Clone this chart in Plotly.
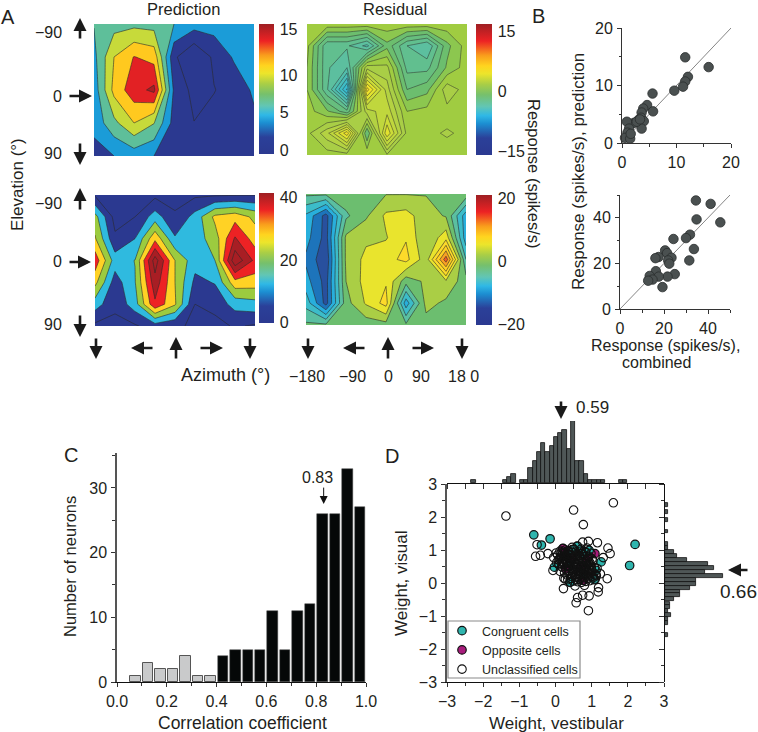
import plotly.graph_objects as go

W, H = 758, 732
FONT = "Liberation Sans"
INK = "#231F20"

# ---------------- data ----------------
azimuth = [-180, -135, -90, -45, 0, 45, 90, 135, 180]
elev5 = [-90, -45, 0, 45, 90]
elev7 = [-90, -60, -30, 0, 30, 60, 90]

prediction_vis = [
    [5.1, 6.5, 6.8, 6.5, 5.0, 3.6, 3.6, 3.6, 3.6],
    [4.3, 10.0, 12.6, 11.6, 0.5, -2.5, 0.5, 2.8, 3.8],
    [3.5, 10.8, 14.0, 15.6, 2.0, -0.8, -0.1, 1.0, 2.9],
    [3.3, 6.8, 10.0, 7.6, 1.5, 0.05, 0.8, 1.2, 2.0],
    [1.5, 2.5, 3.5, 2.5, 1.5, 1.2, 1.2, 1.2, 1.5],
]
residual_vis = [
    [0.4, 0.4, 0.4, 0.4, 0.4, 0.4, 0.4, 0.4, 0.4],
    [0.2, -2.3, -2.3, -3.2, -0.8, -2.4, -3.0, -0.8, 0.3],
    [0.0, -2.3, -3.0, 1.0, 0.8, -2.0, -2.0, -0.5, 0.3],
    [0.0, -2.3, -5.5, 4.5, 1.5, -1.2, -0.8, 1.0, 0.3],
    [0.3, -0.5, -1.6, 1.5, 2.2, 0.0, 0.2, 0.4, 0.4],
    [0.4, 1.6, 4.0, -1.2, 3.5, 0.4, 0.5, 0.65, 0.5],
    [0.2, 0.3, 0.3, 0.5, 0.5, 0.5, 0.4, 0.4, 0.4],
]
prediction_comb = [
    [-1, -2, -1, -2, -2.5, -1.5, -1, -0.5, -0.2],
    [19, -3, 0, 12, 1, 11, 26, 29, 22],
    [25, 1.5, 8, 30, 9, 12, 20, 41, 28],
    [37, 12, 16.2, 52, 24, 11, 16, 54, 38],
    [26.5, 4, 15.5, 45, 24, 6, 8.5, 29, 28],
    [12, 1.6, 12.5, 38.5, 25, 0, 3, 11, 13],
    [-2, -2, -1, 4, 1, -1, -3, 1, -1],
]
residual_comb = [
    [-2, -2, -1, -1, -0.1, -0.1, -0.1, -0.1, -1],
    [-8, -13.5, -3, -0.4, 3, 3.5, 1, -0.2, -9],
    [-9, -13.5, 0.5, 2, 2.3, 4.8, 0.2, 4, -9],
    [-10.5, -14.5, 0.5, 3.2, 4, 5.8, 1, 14, -5],
    [-9, -13.5, 0, 3.5, 4.7, -1.5, 0.5, 2, -1.5],
    [-6, -13.5, -1, 2.8, 6, -9, 0.8, -0.5, -1.5],
    [-2, -2, -2, -1.5, -1, -2, -1, -1.5, -1.5],
]

elevation_ticklabels = ["\u221290", "0", "90"]
azimuth_ticklabels = ["\u2212180", "\u221290", "0", "90", "18 0"]

vis_pred_combined_x = [11.6, 15.9, 12.1, 11.6, 11.2, 9.6, 5.6, 4.6, 5.7, 3.9, 3.6, 3.5, 4.0, 3.0, 2.2, 3.6, 0.9, 1.3, 1.0, 0.55, 1.5, 1.6, 2.7, 3.3]
vis_pred_combined_y = [14.9, 13.2, 11.5, 10.7, 9.8, 9.1, 8.6, 6.6, 5.5, 6.0, 5.3, 4.4, 3.8, 4.0, 3.5, 2.5, 3.7, 2.5, 1.8, 0.9, 0.75, 1.6, 3.7, 4.1]
comb_pred_combined_x = [34.5, 41.2, 34.8, 45.6, 31.8, 30.0, 24.3, 33.6, 31.5, 20.5, 21.4, 17.5, 16.1, 23.4, 21.9, 22.4, 16.3, 24.9, 21.6, 17.6, 13.5, 14.8, 12.8, 19.3]
comb_pred_combined_y = [47.6, 46.1, 39.3, 38.0, 32.6, 31.1, 30.7, 26.3, 21.3, 25.7, 24.5, 22.8, 22.3, 22.5, 21.3, 19.9, 16.6, 15.3, 14.2, 14.2, 14.5, 12.9, 12.4, 9.6]

corr_bins_low = [0.075, 0.125, 0.175, 0.225, 0.275, 0.325, 0.375]
corr_counts_low = [1, 3, 2, 2, 4, 1, 1]
corr_bins_high = [0.425, 0.475, 0.525, 0.575, 0.625, 0.675, 0.725, 0.775, 0.825, 0.875, 0.925, 0.975]
corr_counts_high = [4, 5, 5, 5, 11, 5, 11, 12, 26, 26, 33, 27]

vest_bins = [-2.27, -1.404, -1.285, -1.166, -0.93, -0.81, -0.694, -0.576, -0.458, -0.34, -0.22, -0.10, 0.015, 0.13, 0.25, 0.37, 0.49, 0.605, 0.72, 0.84, 0.96, 1.08, 1.20, 1.31, 1.81, 1.92]
vest_counts = [1, 1, 2, 3, 1, 1, 5, 7, 10, 13, 10, 12, 15, 16, 17, 11, 20, 7, 7, 3, 1, 1, 1, 1, 1, 1]
vis_bins = [2.37, 2.14, 1.91, 1.56, 1.17, 1.06, 0.94, 0.82, 0.70, 0.58, 0.45, 0.33, 0.22, 0.10, -0.02, -0.14, -0.26, -0.37, -0.49, -0.62, -0.73, -0.85, -0.97, -1.09, -1.21, -1.57]
vis_counts = [1, 1, 1, 1, 1, 1, 3, 4, 7, 14, 16, 13, 19, 10, 10, 8, 5, 5, 3, 1.5, 1.5, 1, 2, 1, 1, 1]

congruent_x = [-0.60, -0.15, -0.39, 2.20, 2.05, -0.03, 0.40, 0.72, 0.61, 0.46, 1.26, 1.12, 0.77, 1.07, 0.38, 0.93]
congruent_y = [1.46, 1.34, 1.15, 1.17, 0.53, 0.48, 0.03, 0.89, 1.11, 1.01, 0.64, 0.38, 0.28, 0.10, 0.59, 0.99]
opposite_x = [0.20, 0.75, 1.09, 0.29, 0.70, 0.25, 0.89, 0.47]
opposite_y = [1.04, 0.08, 0.89, 0.43, 0.48, 0.89, 0.74, 0.77]
unclassified_x = [
    -1.37, 0.50, 1.60, 0.77, -0.51, -0.55, -0.42, -0.21, -0.07, 0.23, 0.22, 0.54, 0.80, 1.19, 1.18, 0.93, 0.75, 0.61, 0.57, 0.91,
    1.43, 1.51, 1.45, 1.16, 0.91, 0.75, 1.32, 1.24,
    -0.05, 0.02, 0.08, 0.12, 0.16, 0.21, 0.26, 0.31, 0.35, 0.41, 0.46, 0.50, 0.55, 0.60, 0.66, 0.71, 0.76, 0.82, 0.87, 0.93, 0.98, 1.03,
    0.03, 0.10, 0.14, 0.19, 0.24, 0.30, 0.36, 0.39, 0.44, 0.52, 0.57, 0.63, 0.68, 0.73, 0.79, 0.85, 0.90, 0.96, 1.01, 1.08,
    0.17, 0.22, 0.28, 0.33, 0.38, 0.43, 0.48, 0.53, 0.58, 0.65, 0.70, 0.77, 0.83, 0.88, 0.94, 1.00, 1.06, 1.11,
    0.25, 0.32, 0.37, 0.45, 0.51, 0.56, 0.62, 0.69, 0.74, 0.80, 0.86, 0.92, 0.97, 1.04, 1.10,
    0.34, 0.42, 0.49, 0.54, 0.61, 0.67, 0.72, 0.78, 0.84, 0.89, 0.95, 1.02,
    0.13, 0.27, 0.40, 0.59, 0.64, 0.81, 0.99, 1.13, 1.15,
    0.06, 0.11, 0.18, 0.20, 0.15, 0.23, 0.29, 0.27, 0.34, 0.33, 0.40, 0.38, 0.47, 0.43, 0.49, 0.54, 0.59, 0.56, 0.64, 0.62, 0.68, 0.67, 0.74, 0.78, 0.84, 0.81, 0.91, 0.86, 0.95, 0.99,
    0.09, 0.16, 0.21, 0.26, 0.31, 0.37, 0.42, 0.48, 0.51, 0.58, 0.63, 0.69, 0.72, 0.76, 0.83, 0.88, 0.92,
]
unclassified_y = [
    2.03, 2.21, 2.43, 1.77, 1.16, 0.81, 0.84, 0.89, 0.38, 0.15, -0.17, -0.09, -0.07, -0.14, -0.27, -0.39, -0.37, -0.44, -0.60, -0.84,
    0.13, 0.89, 1.06, 1.22, 1.26, 1.24, 0.77, 0.28,
    0.77, 0.91, 0.70, 0.96, 0.84, 1.05, 0.92, 0.74, 0.98, 0.86, 1.08, 0.79, 0.94, 1.12, 0.83, 1.03, 0.72, 0.95, 1.06, 0.81, 0.90, 0.68,
    0.62, 0.55, 0.78, 0.66, 0.71, 0.60, 0.52, 0.67, 0.75, 0.63, 0.56, 0.69, 0.58, 0.64, 0.52, 0.60, 0.66, 0.55, 0.73, 0.47,
    0.49, 0.57, 0.42, 0.50, 0.37, 0.46, 0.54, 0.41, 0.48, 0.35, 0.44, 0.40, 0.45, 0.33, 0.42, 0.37, 0.30, 0.25,
    0.31, 0.24, 0.28, 0.20, 0.33, 0.25, 0.18, 0.27, 0.21, 0.15, 0.24, 0.19, 0.28, 0.16, 0.12,
    0.10, 0.14, 0.06, 0.18, 0.04, 0.12, 0.02, 0.09, 0.05, 0.14, 0.07, 0.20,
    0.35, 0.12, 0.02, 0.10, 0.26, 0.36, 0.48, 0.22, 0.44,
    0.85, 0.74, 0.97, 0.62, 0.91, 0.80, 0.71, 1.00, 0.88, 0.60, 0.77, 0.52, 0.93, 0.65, 0.40, 0.84, 0.73, 0.47, 0.90, 0.55, 0.78, 0.35, 0.61, 0.86, 0.70, 0.43, 0.78, 0.52, 0.62, 0.44,
    0.58, 0.66, 0.92, 0.83, 0.64, 0.95, 0.56, 0.32, 1.02, 0.82, 0.38, 0.96, 0.30, 0.52, 0.92, 0.36, 0.58,
]

# ---------------- helpers ----------------
def px(x):
    return x / W

def py(y):
    return 1 - y / H

def dom(a, b):
    return [a / W, b / W]

def domy(top, bottom):
    return [1 - bottom / H, 1 - top / H]

# continuous colour ramp of the colour bars
jet = [
    [0.00, "#2B3990"], [0.13, "#2B4099"], [0.24, "#1C8FD2"], [0.30, "#2FB8E6"],
    [0.37, "#62C6B4"], [0.46, "#76C06C"], [0.54, "#A9CE46"], [0.62, "#ECE52B"],
    [0.68, "#FFD41F"], [0.76, "#F99D1C"], [0.87, "#ED2224"], [1.00, "#9E1F23"],
]
# ramps that give the flat colours of the contour bands
bands = [
    [0.00, "#2B3990"], [0.11, "#2B3990"], [0.16, "#28529F"], [0.22, "#1D75BC"], [0.25, "#1B9CD8"],
    [0.30, "#2FBADF"], [0.34, "#3ABCCB"], [0.41, "#5CBF9F"], [0.47, "#6CBE6E"], [0.50, "#9CCB3F"],
    [0.53, "#A9CE46"], [0.585, "#C8DA3A"], [0.62, "#ECE52B"], [0.66, "#FFD92A"], [0.75, "#FFC91F"],
    [0.82, "#F2702A"], [0.90, "#ED2224"], [1.00, "#A81E24"],
]
bands_yellow = [[p, "#E8E42E"] if p == 0.585 else [p, c] for p, c in bands]

fig = go.Figure()
layout = dict(
    width=W, height=H, autosize=False, margin=dict(l=0, r=0, t=0, b=0, autoexpand=False),
    paper_bgcolor="white", plot_bgcolor="white",
    font=dict(family=FONT, size=15, color=INK),
    bargap=0, barmode="overlay",
    shapes=[dict(type="rect", xref="paper", yref="paper", x0=px(448), x1=px(580), y0=py(678), y1=py(621),
                 fillcolor="white", line=dict(color="#8A8A8A", width=1.2), layer="above")],
)
ann = []

def text(x, y, s, size=16.5, rot=0, anchor="center", color=INK):
    ann.append(dict(x=px(x), y=py(y), xref="paper", yref="paper", text=s, showarrow=False,
                    xanchor=anchor, yanchor="middle", textangle=rot,
                    font=dict(family=FONT, size=size, color=color)))

def arrow(x0, y0, x1, y1, width=2.6, size=1.0):
    ann.append(dict(x=px(x1), y=py(y1), xref="paper", yref="paper", text="", showarrow=True,
                    ax=x0 - x1, ay=y0 - y1, axref="pixel", ayref="pixel",
                    arrowhead=2, arrowwidth=width, arrowsize=size, arrowcolor="#1A1A1A", standoff=0))

hidden = dict(visible=False)

def contour_panel(n, z, ys, box, cbbox, zrange, start, end, size, ticks, ticktext, lw=0.6, extra=None, scale=bands):
    xa, ya = f"xaxis{n}", f"yaxis{n}"
    layout[xa] = dict(domain=dom(box[0], box[1]), range=[azimuth[0], azimuth[-1]], anchor=f"y{n}", **hidden)
    layout[ya] = dict(domain=domy(box[2], box[3]), range=[ys[-1], ys[0]], anchor=f"x{n}", **hidden)
    fig.add_trace(go.Heatmap(
        x=azimuth, y=ys, z=z, zmin=zrange[0], zmax=zrange[1], colorscale=jet, hoverinfo="skip",
        xaxis=f"x{n}", yaxis=f"y{n}", showscale=True,
        colorbar=dict(x=px(cbbox[0]), xanchor="left", xpad=0, ypad=0, thickness=cbbox[1] - cbbox[0],
                      y=py(cbbox[3]), yanchor="bottom", lenmode="pixels", len=cbbox[3] - cbbox[2],
                      outlinewidth=0, tickmode="array", tickvals=ticks, ticktext=ticktext,
                      ticks="outside", ticklen=3, tickcolor="rgba(0,0,0,0)",
                      tickfont=dict(family=FONT, size=16, color=INK))))
    fig.add_trace(go.Contour(
        x=azimuth, y=ys, z=z, zmin=zrange[0], zmax=zrange[1], colorscale=scale, showscale=False,
        hoverinfo="skip", xaxis=f"x{n}", yaxis=f"y{n}", showlegend=False,
        contours=dict(start=start, end=end, size=size, coloring="fill", showlines=True),
        line=dict(color="#2A2A2A", width=lw, smoothing=0)))
    if extra is not None:
        fig.add_trace(go.Contour(
            x=azimuth, y=ys, z=z, showscale=False, hoverinfo="skip", xaxis=f"x{n}", yaxis=f"y{n}", showlegend=False,
            contours=dict(start=extra, end=extra, size=1, coloring="none", showlines=True),
            line=dict(color="#2A2A2A", width=lw, smoothing=0)))

contour_panel(1, prediction_vis, elev5, (94, 254, 24, 156), (259, 274, 24, 154), (0, 15), 0, 15, 2.5,
              [14.4, 9.1, 4.85, 0.46], ["15", "10", "5", "0"])
contour_panel(2, residual_vis, elev7, (307, 467, 24, 155), (476, 492, 24, 155), (-15, 15), -15, 15, 0.6,
              [13.4, -0.34, -14.1], ["15", "0", "\u221215"], lw=0.5)
contour_panel(3, prediction_comb, elev7, (95, 255, 195, 326), (259, 274, 193, 323), (0, 40), 0, 40, 8,
              [38.8, 19.4, 0.1], ["40", "20", "0"], extra=48)
contour_panel(4, residual_comb, elev7, (306, 466, 194, 325), (476, 492, 195, 325), (-20, 20), -20, 20, 2.5,
              [19.1, -0.3, -19.7], ["20", "0", "\u221220"], scale=bands_yellow)

def std_axis(**kw):
    d = dict(showline=True, linecolor="#333", linewidth=1, ticks="outside", ticklen=4, tickwidth=1,
             tickcolor="#333", showgrid=False, zeroline=False,
             tickfont=dict(family=FONT, size=16, color=INK), ticklabelstandoff=1)
    d.update(kw)
    return d

# ---- panel B ----
def scatter_panel(n, x, y, box, maxv, dt, mdt):
    layout[f"xaxis{n}"] = std_axis(domain=dom(box[0], box[1]), range=[0, maxv], dtick=dt, tick0=0, anchor=f"y{n}",
                                   minor=dict(dtick=mdt, ticks="outside", ticklen=2.5, tickcolor="#333", showgrid=False))
    layout[f"yaxis{n}"] = std_axis(domain=domy(box[2], box[3]), range=[0, maxv], dtick=dt, tick0=0, anchor=f"x{n}",
                                   minor=dict(dtick=mdt, ticks="outside", ticklen=2.5, tickcolor="#333", showgrid=False))
    fig.add_trace(go.Scatter(x=[0, maxv], y=[0, maxv], mode="lines", line=dict(color="#777", width=0.9),
                             xaxis=f"x{n}", yaxis=f"y{n}", showlegend=False, hoverinfo="skip"))
    fig.add_trace(go.Scatter(x=x, y=y, mode="markers", xaxis=f"x{n}", yaxis=f"y{n}", showlegend=False, hoverinfo="skip",
                             cliponaxis=False,
                             marker=dict(size=9.5, color="#4A5050", line=dict(color="#2A2D2D", width=0.8))))

scatter_panel(5, vis_pred_combined_x, vis_pred_combined_y, (622, 731, 28, 143), 20, 10, 5)
scatter_panel(6, comb_pred_combined_x, comb_pred_combined_y, (620, 730, 195, 309), 50, 20, 10)

# ---- panel C ----
layout["xaxis7"] = std_axis(domain=dom(117, 366), range=[0, 1], dtick=0.2, tick0=0, tickformat=".1f", anchor="y7",
                            linecolor="#111", linewidth=1.2,
                            minor=dict(dtick=0.1, ticks="outside", ticklen=3, tickcolor="#333", showgrid=False))
layout["yaxis7"] = std_axis(domain=domy(453, 682), range=[0, 35.4], dtick=10, tick0=0, anchor="x7",
                            linecolor="#555", linewidth=1.5,
                            minor=dict(dtick=5, ticks="outside", ticklen=3, tickcolor="#333", showgrid=False))
fig.add_trace(go.Bar(x=corr_bins_low, y=corr_counts_low, width=0.042, xaxis="x7", yaxis="y7", showlegend=False,
                     hoverinfo="skip", marker=dict(color="#C9CACB", line=dict(color="#555", width=1))))
fig.add_trace(go.Bar(x=corr_bins_high, y=corr_counts_high, width=0.042, xaxis="x7", yaxis="y7", showlegend=False,
                     hoverinfo="skip", marker=dict(color="#050808", line=dict(color="#444", width=0.5))))
ann.append(dict(x=0.83, y=27.5, xref="x7", yref="y7", text="", showarrow=True, ax=0, ay=-18, axref="pixel", ayref="pixel",
                arrowhead=2, arrowwidth=1, arrowsize=1.6, arrowcolor="#111", standoff=0))

# ---- panel D ----
layout["xaxis8"] = std_axis(domain=dom(447, 664), range=[-3, 3], dtick=1, tick0=0, anchor="y8", linecolor="#111",
                            minor=dict(dtick=0.5, ticks="outside", ticklen=3, tickcolor="#333", showgrid=False))
layout["yaxis8"] = std_axis(domain=domy(484, 682), range=[-3, 3], dtick=1, tick0=0, anchor="x8", linecolor="#555", linewidth=1.5,
                            minor=dict(dtick=0.5, ticks="outside", ticklen=3, tickcolor="#333", showgrid=False))
fig.add_trace(go.Scatter(x=opposite_x, y=opposite_y, mode="markers", name="Opposite cells", xaxis="x8", yaxis="y8",
                         legendrank=2, hoverinfo="skip",
                         marker=dict(size=8.5, color="#A81C7C", line=dict(color="#111", width=1.2))))
fig.add_trace(go.Scatter(x=congruent_x, y=congruent_y, mode="markers", name="Congruent cells", xaxis="x8", yaxis="y8",
                         legendrank=1, hoverinfo="skip",
                         marker=dict(size=8.5, color="#2FB5AE", line=dict(color="#111", width=1.2))))
fig.add_trace(go.Scatter(x=unclassified_x, y=unclassified_y, mode="markers", name="Unclassified cells", xaxis="x8", yaxis="y8",
                         legendrank=3, hoverinfo="skip",
                         marker=dict(size=8.5, color="rgba(255,255,255,0)", line=dict(color="#111", width=1.1))))
layout["xaxis9"] = std_axis(domain=dom(447, 664), range=[-3, 3], dtick=1, tick0=0, anchor="y9", showticklabels=False,
                            linecolor="#111", linewidth=1.2, ticklen=5,
                            minor=dict(dtick=0.5, ticks="outside", ticklen=5, tickcolor="#333", showgrid=False))
layout["yaxis9"] = dict(domain=domy(421, 483), range=[0, 20], anchor="x9", **hidden)
fig.add_trace(go.Bar(x=vest_bins, y=vest_counts, width=0.12, xaxis="x9", yaxis="y9", showlegend=False, hoverinfo="skip",
                     marker=dict(color="#4F5757", line=dict(color="#111", width=0.8))))
layout["yaxis10"] = std_axis(domain=domy(484, 682), range=[-3, 3], dtick=1, tick0=0, anchor="x10", showticklabels=False,
                             linecolor="#111", linewidth=1.2, ticklen=5,
                             minor=dict(dtick=0.5, ticks="outside", ticklen=3, tickcolor="#333", showgrid=False))
layout["xaxis10"] = dict(domain=dom(665, 724), range=[0, 19.2], anchor="y10", **hidden)
fig.add_trace(go.Bar(y=vis_bins, x=vis_counts, width=0.115, orientation="h", xaxis="x10", yaxis="y10", showlegend=False,
                     hoverinfo="skip", marker=dict(color="#4F5757", line=dict(color="#111", width=0.8))))
layout["legend"] = dict(x=px(442), y=py(616), xanchor="left", yanchor="top", bgcolor="rgba(255,255,255,0)", borderwidth=0,
                        font=dict(family=FONT, size=12.5, color=INK), tracegroupgap=0, itemsizing="trace")

# ---- text ----
for s, x, y in [("A", 8, 17), ("B", 538, 16), ("C", 71, 455), ("D", 392, 456)]:
    text(x, y, s, size=20)
text(183, 9, "Prediction", 16.5)
text(395, 9, "Residual", 16.5)
text(17, 185, "Elevation (\u00b0)", 17, rot=-90)
text(534, 173, "Response (spikes/s)", 16.5, rot=90)
text(578, 172, "Response (spikes/s), prediction", 17, rot=-90)
text(665, 345, "Response (spikes/s),", 16)
text(656, 362, "combined", 16)
text(225, 375, "Azimuth (\u00b0)", 18)
text(70, 567, "Number of neurons", 16.5, rot=-90)
text(242, 723, "Correlation coefficient", 17.5)
text(556, 723, "Weight, vestibular", 17)
text(401, 583, "Weight, visual", 17, rot=-90)
text(317, 478, "0.83", 16)
text(592, 408, "0.59", 17)
text(738, 591, "0.66", 19)

for lab, y in zip(elevation_ticklabels, (33, 96, 153)):
    text(64, y, lab, 16, anchor="right")
for lab, y in zip(elevation_ticklabels, (204, 261, 324)):
    text(64, y, lab, 16, anchor="right")
for lab, x in zip(azimuth_ticklabels, (307, 352, 388, 421, 463)):
    text(x, 376, lab, 16)

arrow(80, 40, 80, 18)
arrow(68, 96, 92, 96)
arrow(80, 142, 80, 165)
arrow(80, 211, 80, 188)
arrow(68, 262, 91, 262)
arrow(80, 314, 80, 337)
for x in (96, 250, 308, 462):
    arrow(x, 337, x, 359)
for x in (176, 388):
    arrow(x, 360, x, 337)
arrow(154, 348, 131, 348)
arrow(366, 348, 343, 348)
arrow(199, 348, 223, 348)
arrow(411, 348, 434, 348)
arrow(561, 400, 561, 419)
arrow(749, 570, 728, 570)

layout["annotations"] = ann
fig.update_layout(**layout)
fig.write_html("out.html", post_script="document.body.style.margin='0';document.body.style.overflow='hidden';",
               config={"displayModeBar": False})
